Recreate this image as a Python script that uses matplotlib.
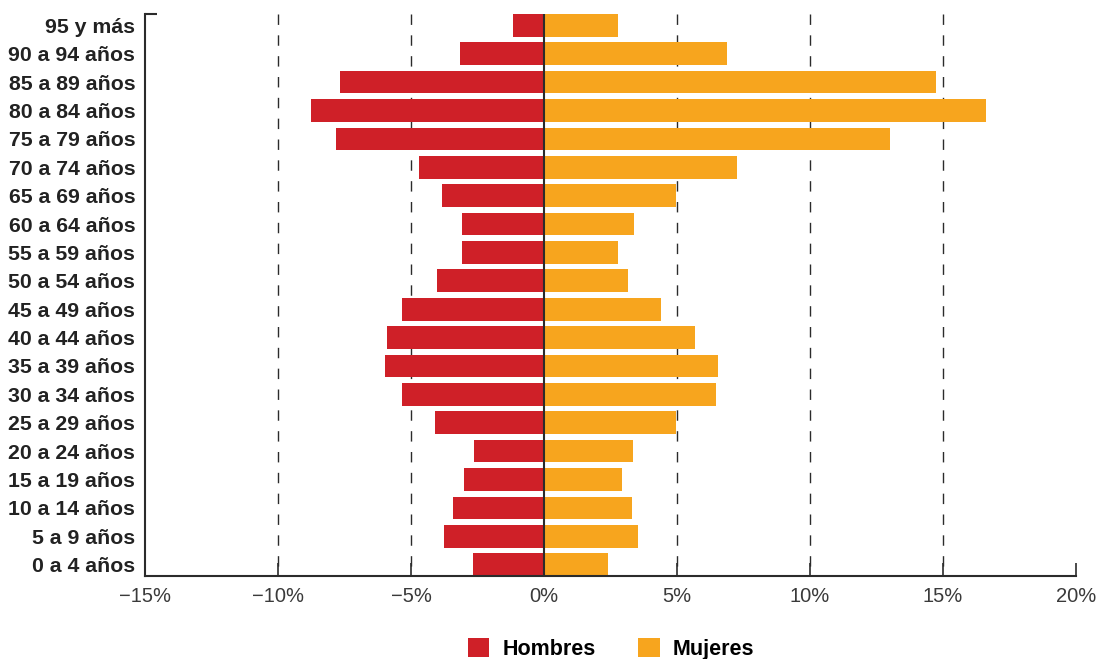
import numpy as np
import matplotlib
matplotlib.use("Agg")
import matplotlib.pyplot as plt
from matplotlib.patches import Patch

plt.rcParams["font.family"] = ["Liberation Sans", "DejaVu Sans"]

# age groups, bottom to top
grupos = ["0 a 4 años", "5 a 9 años", "10 a 14 años", "15 a 19 años",
          "20 a 24 años", "25 a 29 años", "30 a 34 años", "35 a 39 años",
          "40 a 44 años", "45 a 49 años", "50 a 54 años", "55 a 59 años",
          "60 a 64 años", "65 a 69 años", "70 a 74 años", "75 a 79 años",
          "80 a 84 años", "85 a 89 años", "90 a 94 años", "95 y más"]

hombres = [2.68, 3.77, 3.43, 3.02, 2.64, 4.11, 5.34, 5.98, 5.91, 5.34,
           4.03, 3.09, 3.09, 3.84, 4.71, 7.82, 8.76, 7.67, 3.17, 1.18]
mujeres = [2.39, 3.55, 3.30, 2.95, 3.36, 4.95, 6.45, 6.55, 5.66, 4.38,
           3.14, 2.80, 3.37, 4.95, 7.25, 13.02, 16.6, 14.75, 6.87, 2.80]

xticks = [-15, -10, -5, 0, 5, 10, 15, 20]
xtick_labels = ["\u221215%", "\u221210%", "\u22125%", "0%", "5%", "10%", "15%", "20%"]
grid_pos = [-10, -5, 5, 10, 15]

rojo = "#CF2028"
naranja = "#F7A51E"
oscuro = "#2b2b2b"

fig = plt.figure(figsize=(10.99, 6.59), dpi=100)
ax = fig.add_axes([145 / 1099, 83 / 659, 931 / 1099, 562 / 659])

y = np.arange(len(grupos))
ax.barh(y, -np.array(hombres), height=0.8, color=rojo, zorder=2)
ax.barh(y, mujeres, height=0.8, color=naranja, zorder=2)

# dashed grid, drawn top-down so the dash pattern starts at the top
for g in grid_pos:
    ax.plot([g, g], [1, 0], transform=ax.get_xaxis_transform(), color=oscuro,
            lw=1.0, linestyle=(0, (7.5, 7.5)), zorder=1)
ax.axvline(0, color=oscuro, lw=1.5, zorder=3)

ax.set_xlim(-15, 20)
ax.set_ylim(-0.4, len(grupos) - 0.6)

ax.set_xticks(xticks)
ax.set_xticklabels(xtick_labels, fontsize=14.5, color="#3a3a3a")
ax.tick_params(axis="x", direction="in", length=9.5, width=1.2, color=oscuro, pad=8)

ax.set_yticks(y)
ax.set_yticklabels(grupos, fontsize=15.3, fontweight="bold", color="#222222")
ax.tick_params(axis="y", length=0, pad=7)
# small bracket tick at the top of the left spine
ax.set_yticks([len(grupos) - 0.6], minor=True)
ax.tick_params(axis="y", which="minor", direction="in", length=8.5, width=1.5, color=oscuro)

for s in ["top", "right"]:
    ax.spines[s].set_visible(False)
for s in ["left", "bottom"]:
    ax.spines[s].set_color(oscuro)
    ax.spines[s].set_linewidth(1.5)

handles = [Patch(facecolor=rojo, label="Hombres"), Patch(facecolor=naranja, label="Mujeres")]
fig.legend(handles=handles, loc="center", bbox_to_anchor=(0.556, 0.015), ncol=2,
           frameon=False, handlelength=1.0, handleheight=1.0, handletextpad=0.6,
           columnspacing=2.0, prop={"size": 15.5, "weight": "bold"})

fig.savefig("out.png", dpi=100)
